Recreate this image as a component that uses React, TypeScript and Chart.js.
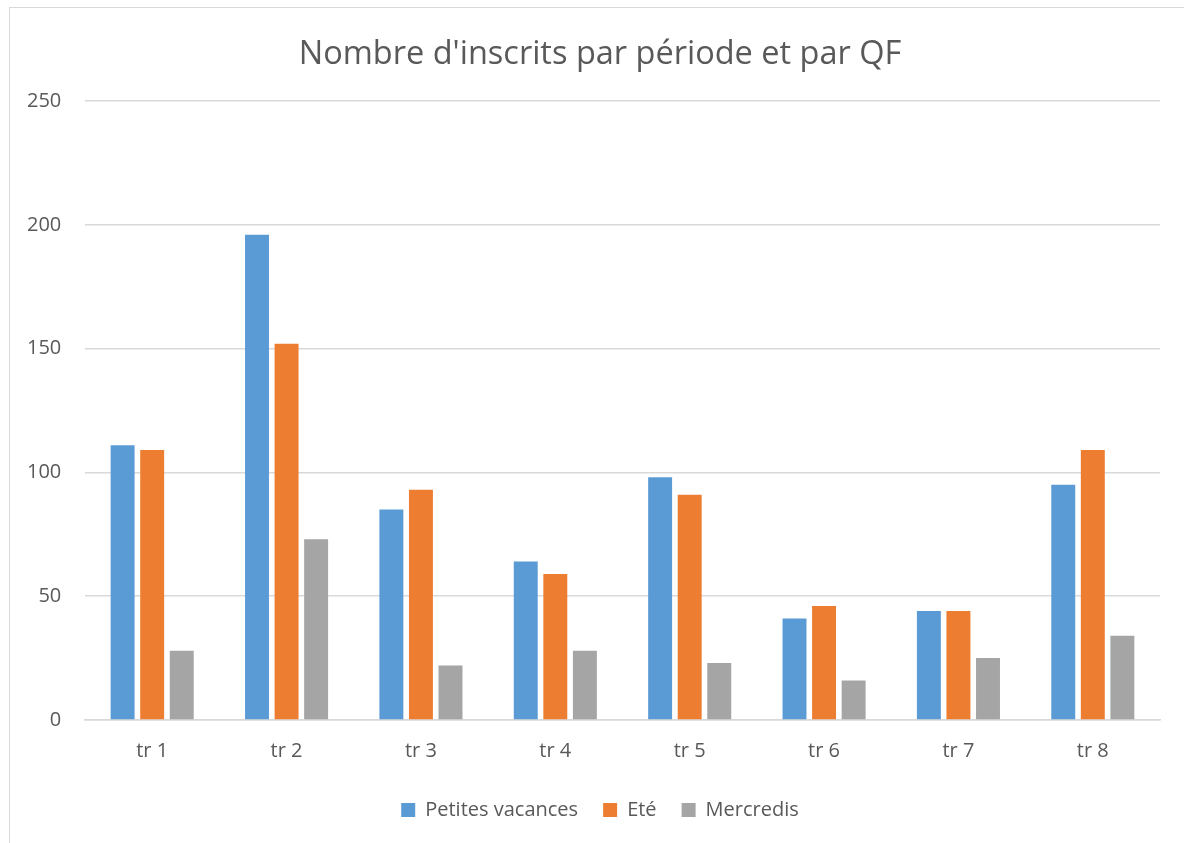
import React, { useEffect, useRef } from "react";
import { Chart, registerables } from "chart.js";

Chart.register(...registerables);

const categories = ["tr 1", "tr 2", "tr 3", "tr 4", "tr 5", "tr 6", "tr 7", "tr 8"];
const petitesVacances = [111, 196, 85, 64, 98, 41, 44, 95];
const ete = [109, 152, 93, 59, 91, 46, 44, 109];
const mercredis = [28, 73, 22, 28, 23, 16, 25, 34];
const yTicks = [0, 50, 100, 150, 200, 250];

const FONT = "'Open Sans', 'Noto Sans', sans-serif";
const TEXT = "#595959";

export default function App() {
  const ref = useRef<HTMLCanvasElement | null>(null);
  useEffect(() => {
    if (!ref.current) return;
    const chart = new Chart(ref.current, {
      type: "bar",
      data: {
        labels: categories,
        datasets: [
          { label: "Petites vacances", data: petitesVacances, backgroundColor: "#5B9BD5" },
          { label: "Eté", data: ete, backgroundColor: "#ED7D31" },
          { label: "Mercredis", data: mercredis, backgroundColor: "#A5A5A5" },
        ],
      },
      options: {
        animation: false,
        responsive: false,
        devicePixelRatio: 1,
        datasets: { bar: { categoryPercentage: 0.66, barPercentage: 0.81 } },
        layout: { padding: { left: 40, right: 24, top: 35, bottom: 13 } },
        plugins: {
          title: {
            display: true,
            text: "Nombre d'inscrits par période et par QF",
            color: TEXT,
            font: { family: FONT, size: 32.5, weight: "normal" },
            padding: { top: 0, bottom: 27 },
          },
          legend: {
            position: "bottom",
            labels: {
              color: TEXT,
              font: { family: FONT, size: 20 },
              boxWidth: 14,
              boxHeight: 14,
              padding: 25,
            },
          },
          tooltip: { enabled: false },
        },
        scales: {
          x: {
            grid: { display: false, drawTicks: false },
            border: { display: true, color: "#D9D9D9", width: 1.5 },
            ticks: { color: TEXT, font: { family: FONT, size: 20 }, padding: 19 },
            afterFit: (s: any) => { s.height = 55; },
          },
          y: {
            min: 0,
            max: 250,
            afterBuildTicks: (s: any) => { s.ticks = yTicks.map((v) => ({ value: v })); },
            grid: { color: "#D9D9D9", lineWidth: 1.5, drawTicks: false },
            border: { display: false },
            ticks: {
              color: TEXT,
              font: { family: FONT, size: 20 },
              mirror: true,
              crossAlign: "far",
              padding: -58,
            },
            afterFit: (s: any) => { s.width = 45; },
          },
        },
      },
    });
    return () => chart.destroy();
  }, []);
  return (
    <div style={{ position: "absolute", left: 0, top: 0, width: 1184, height: 843, overflow: "hidden", background: "#fff" }}>
      <div style={{ position: "absolute", left: 9, top: 7, width: 1300, height: 1000, border: "1.5px solid #D9D9D9" }} />
      <canvas ref={ref} width={1184} height={843} style={{ position: "absolute", left: 0, top: 0 }} />
    </div>
  );
}
